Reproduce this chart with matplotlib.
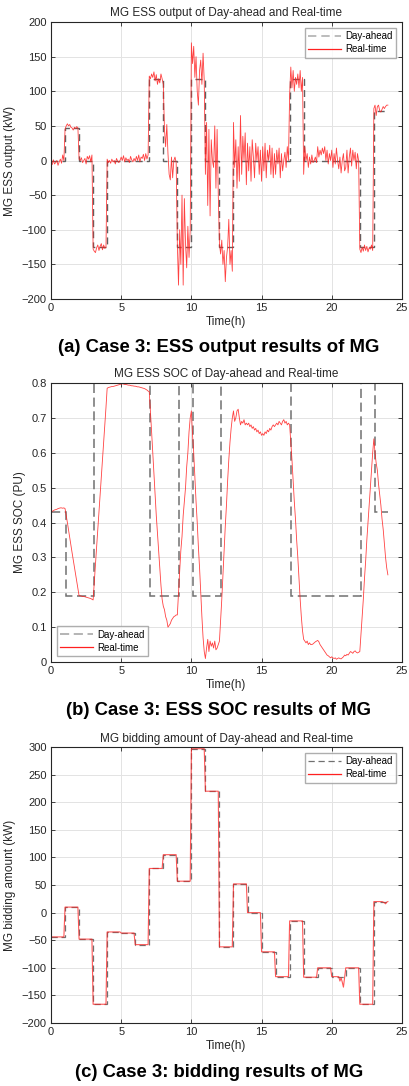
import numpy as np
import matplotlib
matplotlib.use("Agg")
import matplotlib.pyplot as plt

plt.rcParams['font.family'] = ['Liberation Sans', 'DejaVu Sans']

# ---------------- data ----------------
hours_da = np.arange(24)

# (a) ESS output, day-ahead hourly (kW)
ess_da = [0, 47, 0, -125, 0, 0, 0, 118, 0, -125, 118, 0, -125, 0, 0, 0, 0, 118, 0, 0, 0, 0, -125, 72]

# (a) ESS output, real-time at 5-min resolution (kW), one list per hour
ess_rt_hourly = [
    [-2, -6, 1, -5, -3, 0, -7, -2, 2, -4, 8, 0],
    [45, 50, 53, 50, 52, 48, 47, 44, 48, 46, 49, 47],
    [2, 0, 4, -3, 0, 3, -5, 6, 2, 7, -2, 8],
    [-128, -131, -133, -126, -122, -130, -124, -120, -129, -122, -127, -125],
    [2, -3, 0, -4, 2, -2, 0, -5, 3, -1, -3, 0],
    [5, 0, 7, -2, 4, 0, 2, -3, 6, 1, -2, 3],
    [-1, 6, 0, 8, -2, 5, 3, 9, 0, 10, 2, 8],
    [122, 118, 125, 120, 128, 115, 124, 110, 118, 112, 125, 118],
    [110, 45, 20, 52, 10, -20, -28, 5, -25, 0, 5, -3],
    [-120, -180, -100, -150, -50, -180, -55, -120, -155, -95, -140, -100],
    [170, 140, 165, 120, 150, 100, 80, 130, 145, 110, 155, 115],
    [-20, 55, -65, 45, -80, 30, 0, -10, 50, -40, 45, -50],
    [-120, -135, -115, -150, -130, -175, -140, -125, -85, -150, -130, -160],
    [55, -10, 30, -40, 20, -30, 65, -20, 35, 0, 40, -35],
    [25, -15, 20, -30, 30, 5, -25, 25, 0, 20, -20, 15],
    [-30, 20, -15, 25, -25, 15, 0, 22, -20, 18, -25, 10],
    [-20, 15, -5, 18, -25, 10, -15, 0, 12, -10, 20, 0],
    [95, 135, 105, 130, 100, 120, 110, 125, 105, 130, 100, 120],
    [-20, 20, 0, 10, -10, 5, -5, 8, -3, 0, 5, -3],
    [20, 5, 15, 8, 18, 10, 20, 0, 15, -5, 10, 0],
    [15, -10, 10, -5, 18, 0, -12, 5, -18, 0, 10, -15],
    [-10, 15, -18, 5, 18, -8, 15, 0, 12, -12, 10, 0],
    [-128, -133, -125, -131, -122, -130, -124, -132, -126, -128, -122, -130],
    [75, 80, 65, 78, 80, 72, 70, 74, 78, 75, 78, 80],
]
ess_rt_end = 80

# (b) SOC, day-ahead hourly (PU)
soc_da = [0.43, 0.19, 0.19, 0.8, 0.8, 0.8, 0.8, 0.19, 0.19, 0.8, 0.19, 0.19,
          0.8, 0.8, 0.8, 0.8, 0.8, 0.19, 0.19, 0.19, 0.19, 0.19, 0.8, 0.43]

# (b) SOC, real-time at 5-min resolution (PU)
soc_rt_hourly = [
    [0.430, 0.432, 0.434, 0.436, 0.437, 0.438, 0.440, 0.441, 0.442, 0.442, 0.441, 0.442],
    [0.440, 0.420, 0.400, 0.378, 0.356, 0.335, 0.314, 0.293, 0.272, 0.251, 0.230, 0.210],
    [0.190, 0.190, 0.189, 0.188, 0.188, 0.187, 0.186, 0.185, 0.184, 0.183, 0.182, 0.180],
    [0.178, 0.230, 0.280, 0.330, 0.380, 0.430, 0.480, 0.530, 0.580, 0.630, 0.680, 0.730],
    [0.785, 0.787, 0.788, 0.789, 0.790, 0.790, 0.791, 0.792, 0.793, 0.794, 0.795, 0.796],
    [0.797, 0.798, 0.797, 0.796, 0.796, 0.795, 0.794, 0.794, 0.793, 0.792, 0.792, 0.791],
    [0.791, 0.790, 0.789, 0.789, 0.788, 0.787, 0.786, 0.785, 0.784, 0.782, 0.780, 0.777],
    [0.775, 0.720, 0.660, 0.600, 0.540, 0.480, 0.420, 0.370, 0.320, 0.270, 0.220, 0.180],
    [0.160, 0.150, 0.130, 0.120, 0.100, 0.105, 0.110, 0.120, 0.125, 0.130, 0.132, 0.135],
    [0.135, 0.200, 0.260, 0.320, 0.360, 0.420, 0.460, 0.500, 0.560, 0.600, 0.660, 0.700],
    [0.720, 0.650, 0.600, 0.530, 0.460, 0.400, 0.330, 0.270, 0.200, 0.130, 0.070, 0.030],
    [0.010, 0.040, 0.065, 0.030, 0.060, 0.045, 0.055, 0.040, 0.060, 0.035, 0.040, 0.050],
    [0.060, 0.120, 0.180, 0.250, 0.320, 0.390, 0.450, 0.520, 0.580, 0.630, 0.670, 0.700],
    [0.720, 0.690, 0.700, 0.720, 0.725, 0.700, 0.680, 0.690, 0.685, 0.695, 0.680, 0.685],
    [0.680, 0.685, 0.675, 0.680, 0.670, 0.675, 0.665, 0.670, 0.660, 0.665, 0.655, 0.660],
    [0.650, 0.655, 0.650, 0.660, 0.655, 0.665, 0.660, 0.670, 0.665, 0.675, 0.680, 0.675],
    [0.680, 0.685, 0.680, 0.690, 0.685, 0.680, 0.690, 0.695, 0.685, 0.690, 0.680, 0.685],
    [0.680, 0.630, 0.580, 0.520, 0.460, 0.410, 0.350, 0.300, 0.240, 0.180, 0.130, 0.090],
    [0.065, 0.060, 0.055, 0.060, 0.050, 0.055, 0.050, 0.050, 0.052, 0.055, 0.058, 0.060],
    [0.062, 0.058, 0.050, 0.045, 0.040, 0.035, 0.030, 0.025, 0.020, 0.018, 0.015, 0.012],
    [0.015, 0.012, 0.010, 0.012, 0.008, 0.010, 0.012, 0.010, 0.009, 0.012, 0.015, 0.020],
    [0.018, 0.022, 0.020, 0.025, 0.030, 0.028, 0.025, 0.030, 0.032, 0.028, 0.026, 0.028],
    [0.030, 0.080, 0.130, 0.180, 0.240, 0.290, 0.350, 0.400, 0.450, 0.500, 0.550, 0.600],
    [0.640, 0.600, 0.570, 0.550, 0.510, 0.480, 0.450, 0.410, 0.380, 0.340, 0.300, 0.270],
]
soc_rt_end = 0.25

# (c) bidding amount, day-ahead hourly (kW)
bid_da = [-44, 10, -48, -166, -35, -37, -58, 80, 105, 57, 297, 220,
          -62, 52, 0, -71, -116, -15, -117, -100, -116, -100, -166, 20]

# (c) bidding amount, real-time at 5-min resolution (kW)
bid_rt_hourly = [
    [-44] * 12, [10] * 12, [-48] * 12, [-166] * 12, [-35] * 12, [-37] * 12,
    [-58] * 12, [80] * 12, [105] * 12, [57] * 12, [297] * 12, [220] * 12,
    [-62] * 12, [52] * 12, [0] * 12, [-71] * 12, [-116] * 12, [-15] * 12,
    [-117] * 12, [-100] * 12,
    [-116, -116, -116, -116, -116, -116, -116, -124, -118, -126, -135, -118],
    [-100] * 12, [-166] * 12,
    [20, 20, 20, 20, 20, 20, 20, 20, 19, 18, 16, 19],
]
bid_rt_end = 20

soc_lag = 1 / 12  # day-ahead SOC steps are drawn one 5-min sample after the hour


def flat(hourly, end):
    return np.array([v for h in hourly for v in h] + [end], dtype=float)


# ---------------- figure ----------------
fig = plt.figure(figsize=(4.09, 10.86), dpi=100)

axes_rects = [
    [0.1247, 0.7247, 0.858, 0.2550],
    [0.1247, 0.3904, 0.858, 0.2569],
    [0.1247, 0.0580, 0.858, 0.2541],
]
captions = ["(a) Case 3: ESS output results of MG",
            "(b) Case 3: ESS SOC results of MG",
            "(c) Case 3: bidding results of MG"]
caption_y = [0.6796, 0.3462, 0.0125]

RED = '#ff2020'


def style(ax, ylim, yticks, ylabel, title):
    ax.set_xlim(0, 25)
    ax.set_xticks(np.arange(0, 26, 5))
    ax.set_ylim(*ylim)
    ax.set_yticks(yticks)
    ax.grid(True, color='#e3e3e3', linewidth=0.7)
    ax.set_axisbelow(True)
    ax.tick_params(direction='in', top=True, right=True, labelsize=8,
                   length=3, width=0.6, colors='#262626', pad=3)
    for s in ax.spines.values():
        s.set_linewidth(0.8)
        s.set_color('#262626')
    ax.set_xlabel('Time(h)', fontsize=8.5, color='#262626', labelpad=2)
    ax.set_ylabel(ylabel, fontsize=8.5, color='#262626', labelpad=4)
    ax.set_title(title, fontsize=8.5, color='#262626', pad=4)


edges = np.arange(25)
leg_kw = dict(fontsize=7, handlelength=3.4, fancybox=False, edgecolor='#9a9a9a',
              borderpad=0.35, labelspacing=0.3, handletextpad=0.4, borderaxespad=0.6)

# (a)
ax1 = fig.add_axes(axes_rects[0])
ess_rt = flat(ess_rt_hourly, ess_rt_end)
t_rt = np.arange(len(ess_rt)) / 12
ax1.stairs(ess_da, edges, baseline=None, color='#606060', linestyle=(0, (5, 3)),
           linewidth=1.0, label='Day-ahead')
ax1.plot(t_rt, ess_rt, color=RED, linewidth=0.6, alpha=0.85, label='Real-time')
style(ax1, (-200, 200), np.arange(-200, 201, 50), 'MG ESS output (kW)',
      'MG ESS output of Day-ahead and Real-time')
lg = ax1.legend(loc='upper right', **leg_kw)
lg.legend_handles[0].set_color('#b0b0b0')
lg.legend_handles[0].set_linewidth(1.2)
lg.legend_handles[1].set_alpha(1)
lg.legend_handles[1].set_linewidth(0.9)

# (b)
ax2 = fig.add_axes(axes_rects[1])
soc_rt = flat(soc_rt_hourly, soc_rt_end)
soc_edges = np.r_[0, np.arange(1, 24) + soc_lag, 24]
ax2.stairs(soc_da, soc_edges, baseline=None, color='#707070', linestyle=(0, (6, 3)),
           linewidth=1.1, label='Day-ahead')
ax2.plot(np.arange(len(soc_rt)) / 12, soc_rt, color=RED, linewidth=0.6, alpha=0.85,
         label='Real-time')
style(ax2, (0, 0.8), np.round(np.arange(0, 0.81, 0.1), 1), 'MG ESS SOC (PU)',
      'MG ESS SOC of Day-ahead and Real-time')
ax2.set_yticklabels(['0'] + [f'{v:.1f}' for v in np.arange(0.1, 0.81, 0.1)])
lg = ax2.legend(loc='lower left', **leg_kw)
lg.legend_handles[0].set_color('#a0a0a0')
lg.legend_handles[1].set_alpha(1)
lg.legend_handles[1].set_linewidth(0.9)

# (c)
ax3 = fig.add_axes(axes_rects[2])
bid_rt = flat(bid_rt_hourly, bid_rt_end)
ax3.stairs(bid_da, edges, baseline=None, color='#707070', linestyle=(0, (5, 3)),
           linewidth=0.9, label='Day-ahead')
ax3.plot(np.arange(len(bid_rt)) / 12, bid_rt, color=RED, linewidth=0.8, alpha=0.75,
         label='Real-time')
style(ax3, (-200, 300), np.arange(-200, 301, 50), 'MG bidding amount (kW)',
      'MG bidding amount of Day-ahead and Real-time')
lg = ax3.legend(loc='upper right', **leg_kw)
lg.legend_handles[0].set_color('#707070')
lg.legend_handles[1].set_alpha(1)
lg.legend_handles[1].set_linewidth(0.9)

for txt, y in zip(captions, caption_y):
    fig.text(0.535, y, txt, ha='center', va='center', fontsize=13.3,
             fontweight='bold', color='black')

fig.savefig('out.png', dpi=100)
